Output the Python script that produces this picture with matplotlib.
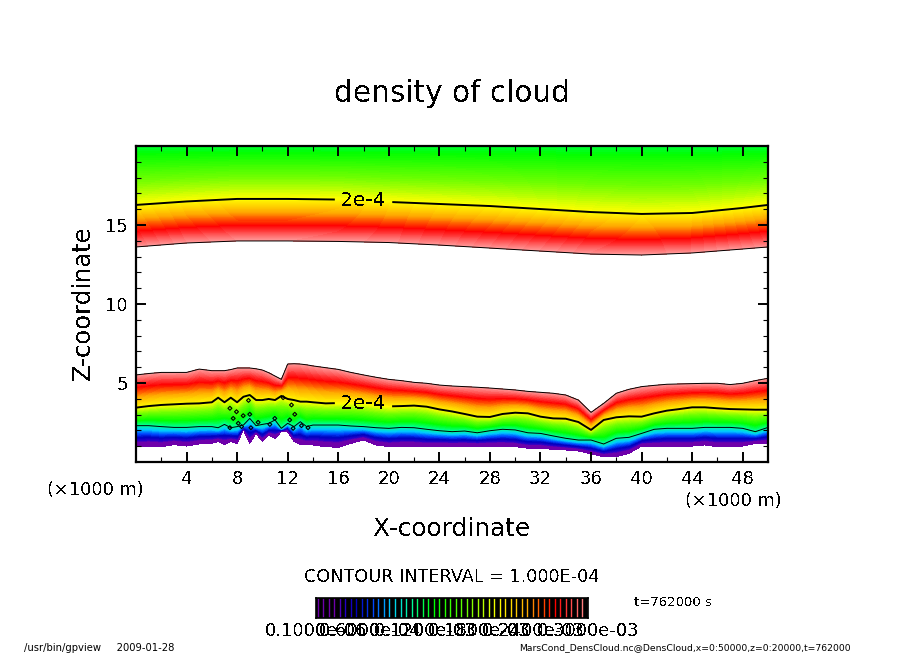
import numpy as np
import matplotlib
matplotlib.use('Agg')
import matplotlib.pyplot as plt
from matplotlib.colors import LinearSegmentedColormap

plt.rcParams['font.family'] = 'DejaVu Sans'
plt.rcParams['text.antialiased'] = False

W, H = 904, 654

# heights (km) of the lower cloud layer at each x station (km)
lower_x = [0, 1, 2, 3, 4, 5, 6,
           6.5, 7, 7.5, 8, 8.5, 9, 9.5, 10, 10.5, 11, 11.5, 12, 12.5, 13, 13.5, 14,
           15, 16, 17, 18, 19, 20, 21, 22, 23, 24, 25, 26, 27, 28, 29, 30, 31, 32,
           33, 34, 35, 36, 37, 38, 39, 40, 41, 42, 43, 44, 45, 46, 47, 48, 49, 50]
lower_3e4 = [5.51, 5.60, 5.67, 5.67, 5.67, 5.88, 5.78,
             5.78, 5.78, 5.85, 5.95, 5.95, 5.95, 5.90, 5.82, 5.65, 5.44, 5.23, 6.20, 6.22, 6.20, 6.15, 6.08,
             5.97, 5.86, 5.67, 5.51, 5.36, 5.23, 5.15, 5.04, 4.98, 4.87, 4.81, 4.77, 4.73, 4.68, 4.62, 4.56, 4.47, 4.41,
             4.35, 4.24, 3.92, 3.14, 3.71, 4.35, 4.60, 4.77, 4.85, 4.92, 4.94, 4.96, 4.98, 4.98, 4.90, 4.98, 5.15, 5.30]
lower_2e4 = [3.44, 3.54, 3.61, 3.65, 3.69, 3.71, 3.78,
             4.07, 3.78, 4.07, 3.78, 4.13, 4.24, 3.92, 3.92, 3.99, 3.92, 4.18, 3.99, 3.92, 3.82, 3.82, 3.78,
             3.71, 3.73, 3.76, 3.71, 3.61, 3.52, 3.54, 3.57, 3.50, 3.33, 3.20, 3.04, 2.87, 2.85, 3.04, 3.12, 3.08, 2.87,
             2.76, 2.74, 2.53, 2.03, 2.66, 2.83, 2.89, 2.87, 3.08, 3.25, 3.35, 3.46, 3.46, 3.40, 3.35, 3.33, 3.31, 3.31]
lower_1e4 = [2.30, 2.30, 2.24, 2.19, 2.19, 2.24, 2.24,
             2.17, 2.38, 2.17, 2.24, 2.34, 2.76, 2.30, 2.38, 2.45, 2.66, 2.13, 2.45, 2.24, 2.55, 2.24, 2.34,
             2.34, 2.34, 2.28, 2.24, 2.17, 2.13, 2.19, 2.17, 2.07, 1.98, 1.92, 1.96, 1.85, 1.98, 2.07, 2.03, 1.85, 1.81,
             1.65, 1.50, 1.39, 1.39, 1.14, 1.50, 1.56, 1.81, 2.07, 2.13, 2.13, 2.13, 2.19, 2.19, 2.19, 2.13, 1.92, 2.19]
lower_0 = [0.97, 1.01, 0.97, 1.10, 1.01, 1.14, 1.18,
           1.29, 1.12, 1.29, 1.18, 2.03, 1.18, 1.81, 1.29, 1.71, 1.50, 1.92, 1.92, 1.29, 1.12, 1.08, 1.08,
           0.97, 0.93, 1.18, 1.39, 1.08, 0.97, 1.01, 1.01, 0.97, 1.01, 1.01, 1.01, 1.01, 1.01, 1.01, 0.97, 0.87, 0.87,
           0.80, 0.76, 0.70, 0.51, 0.34, 0.34, 0.55, 1.01, 0.97, 1.01, 1.01, 1.01, 1.08, 0.97, 0.97, 1.01, 1.18, 1.18]

# heights (km) of the upper cloud layer
upper_x = [0, 4, 8, 12, 16, 20, 24, 28, 32, 36, 40, 44, 48, 50]
upper_3e4 = [13.61, 13.86, 13.99, 13.99, 13.96, 13.89, 13.73, 13.54, 13.35, 13.16, 13.10, 13.23, 13.48, 13.61]
upper_2e4 = [16.27, 16.49, 16.65, 16.65, 16.61, 16.46, 16.33, 16.20, 16.01, 15.82, 15.70, 15.76, 16.08, 16.27]
upper_top = [20.0, 20.0, 20.0, 20.0, 20.0, 20.0, 20.0, 20.0, 20.0, 20.0, 20.0, 20.0, 20.0, 20.0]
top_value = 1.2e-4

# small closed contours in the rough part of the layer
island_x = [7.43, 7.95, 8.48, 9.0, 7.69, 8.35, 9.09, 8.09, 9.66, 10.59, 10.98, 12.16, 12.56, 12.43, 13.09, 7.43, 13.61, 8.9, 11.64, 12.3]
island_z = [3.40, 3.18, 2.93, 3.02, 2.76, 2.24, 2.17, 2.45, 2.51, 2.38, 2.76, 2.66, 3.02, 2.13, 2.30, 2.17, 2.17, 3.90, 4.07, 3.61]

# colour table, value in 1e-4
cmap_pos = [0, 0.22, 0.3, 0.45, 0.62, 0.82, 1.05, 1.3, 1.7, 2.0, 2.33, 2.64, 3.0]
cmap_rgb = [(110, 0, 170), (110, 0, 170), (40, 0, 200), (0, 0, 190), (0, 70, 255), (0, 200, 255), (0, 255, 150),
            (0, 255, 0), (120, 255, 0), (255, 255, 0), (255, 170, 0), (255, 0, 0), (255, 150, 150)]

xtick_vals = [4, 8, 12, 16, 20, 24, 28, 32, 36, 40, 44, 48]
ztick_vals = [5, 10, 15]
cbar_labels = ['0.1000e-06', '0.6000e-04', '0.1200e-03', '0.1800e-03', '0.2400e-03', '0.3000e-03']

cmap = LinearSegmentedColormap.from_list(
    'cloud', [(p / 3.0, tuple(c / 255 for c in rgb)) for p, rgb in zip(cmap_pos, cmap_rgb)])
levels = np.linspace(0, 3e-4, 121)


def rect(x0, y0, x1, y1):
    return [x0 / W, 1 - y1 / H, (x1 - x0) / W, (y1 - y0) / H]


def label(px, py, s, size, **kw):
    kw.setdefault('ha', 'center')
    return fig.text(px / W, 1 - py / H, s, fontsize=size, va='center', **kw)


fig = plt.figure(figsize=(W / 100, H / 100), dpi=100)
ax = fig.add_axes(rect(136, 146, 768, 462))

# lower layer
lz = np.array([lower_0, lower_1e4, lower_2e4, lower_3e4])
lx = np.tile(lower_x, (4, 1))
lc = np.array([[0.0], [1e-4], [2e-4], [3e-4]]) * np.ones_like(lz)
ax.contourf(lx, lz, lc, levels=levels, cmap=cmap)

# upper layer
uz = np.array([upper_3e4, upper_2e4, upper_top])
ux = np.tile(upper_x, (3, 1))
uc = np.array([[3e-4], [2e-4], [top_value]]) * np.ones_like(uz)
ax.contourf(ux, uz, uc, levels=levels, cmap=cmap)

# contour lines
ax.plot(lower_x, lower_3e4, color='k', lw=0.7)
ax.plot(lower_x, lower_1e4, color='k', lw=0.7)
ax.plot(upper_x, upper_3e4, color='k', lw=0.7)
cs1 = ax.contour(lx, lz, lc, levels=[2e-4], colors='k', linewidths=1.4)
cs2 = ax.contour(ux, uz, uc, levels=[2e-4], colors='k', linewidths=1.4)
for cs, pos in ((cs1, (18.0, 3.7)), (cs2, (18.0, 16.5))):
    for t in ax.clabel(cs, fmt={2e-4: '2e-4'}, manual=[pos], fontsize=14.5, inline_spacing=6):
        t.set_rotation(0)
ax.scatter(island_x, island_z, marker='D', s=4, facecolors='none', edgecolors='k', linewidths=0.8)

ax.set_xlim(0, 50)
ax.set_ylim(0, 20)
ax.set_xticks(xtick_vals)
ax.set_xticks(np.arange(2, 50, 4), minor=True)
ax.set_yticks(ztick_vals)
ax.set_yticks(np.arange(1, 20), minor=True)
ax.tick_params(which='major', direction='in', top=True, right=True, length=7.5, width=1.4, labelsize=13, pad=6)
ax.tick_params(which='minor', direction='in', top=True, right=True, length=3.5, width=0.8)
for s in ax.spines.values():
    s.set_linewidth(1.6)

label(452, 94, 'density of cloud', 21.3)
label(452, 529, 'X-coordinate', 17.8)
label(83, 303, 'Z-coordinate', 17.5, rotation=90)
label(95, 490, '(×1000 m)', 12.8)
label(733, 501, '(×1000 m)', 12.8)
label(452, 577, 'CONTOUR INTERVAL = 1.000E-04', 12.7)
label(634, 603, 't=762000 s', 9.5, ha='left')

# colour bar
cax = fig.add_axes(rect(316, 598, 588, 618))
cax.set_facecolor('k')
cax.vlines(np.linspace(0.02e-4, 3e-4, 50), 0, 1, colors=cmap(np.linspace(0.007, 1, 50)), linewidth=1.0)
cax.set_xlim(0, 3e-4)
cax.set_ylim(0, 1)
cax.set_xticks([])
cax.set_yticks([])
for s in cax.spines.values():
    s.set_linewidth(1.2)
for i, t in enumerate(cbar_labels):
    label(316 + 54.4 * i, 631, t, 13)

label(24, 648, '/usr/bin/gpview     2009-01-28', 7.2, ha='left', antialiased=True)
label(851, 648, 'MarsCond_DensCloud.nc@DensCloud,x=0:50000,z=0:20000,t=762000', 6.7, ha='right', antialiased=True)

fig.savefig('out.png', dpi=100)
